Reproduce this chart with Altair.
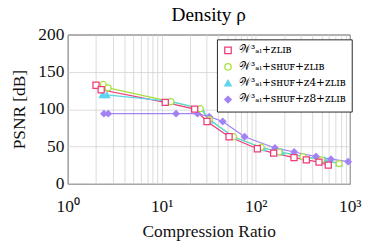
import altair as alt
import pandas as pd

series_names = ["𝒲³ₐₗ+ᴢʟɪʙ", "𝒲³ₐₗ+ꜱʜᴜꜰ+ᴢʟɪʙ", "𝒲³ₐₗ+ꜱʜᴜꜰ+ᴢ4+ᴢʟɪʙ", "𝒲³ₐₗ+ꜱʜᴜꜰ+ᴢ8+ᴢʟɪʙ"]

red_cr = [2.0, 2.27, 10.9, 22.4, 30.3, 52, 104, 155, 255, 345, 470, 590]
red_psnr = [132, 126, 109, 100, 83.5, 63, 47, 41, 35, 32, 29, 25]

green_cr = [2.39, 2.69, 12.5, 25.7, 32, 58, 114, 177, 317, 500, 770]
green_psnr = [133, 128.5, 110, 100.6, 86, 63, 49, 42.6, 36.5, 32, 27]

cyan_cr = [2.34, 2.6, 12.5, 26.2, 33, 57, 118, 187, 324, 541, 770]
cyan_psnr = [119, 119, 110.5, 100.6, 85, 63, 48, 42.6, 36.5, 32, 27.5]

purple_cr = [2.43, 2.7, 14.2, 24, 32, 44.5, 76, 160, 256, 437, 630, 960]
purple_psnr = [94, 94, 94, 94, 90, 83.5, 63, 48, 42.6, 36.5, 33, 29.7]

colors = ["#f03c78", "#a6e03c", "#5cd6ee", "#a282f6"]
fills = ["white", "white", "#5cd6ee", "#a282f6"]
shapes = ["square", "circle", "triangle-up", "diamond"]

rows = []
for order, (name, xs, ys) in enumerate(zip(series_names,
                                            [red_cr, green_cr, cyan_cr, purple_cr],
                                            [red_psnr, green_psnr, cyan_psnr, purple_psnr])):
    for i, (x, y) in enumerate(zip(xs, ys)):
        rows.append({"method": name, "cr": x, "psnr": y, "draw": 3 - order, "i": i})
df = pd.DataFrame(rows)

font = "Liberation Serif"
x_ticks = [m * 10 ** k for k in range(3) for m in range(1, 10)] + [1000]

x_enc = alt.X("cr:Q", scale=alt.Scale(type="log", domain=[1, 1000], nice=False),
              axis=alt.Axis(values=x_ticks, title="Compression Ratio", ticks=False,
                            labelExpr="datum.value == 1 ? '10⁰' : datum.value == 10 ? '10¹' : datum.value == 100 ? '10²' : datum.value == 1000 ? '10³' : ''",
                            labelFlush=False, labelPadding=15, titlePadding=8))
y_enc = alt.Y("psnr:Q", scale=alt.Scale(domain=[0, 200], nice=False),
              axis=alt.Axis(values=[0, 50, 100, 150, 200], title="PSNR [dB]", ticks=False,
                            labelPadding=4, titlePadding=10))

dom = series_names
legend = alt.Legend(title=None, orient="none", legendX=155, legendY=5,
                    fillColor="white", strokeColor="#222", padding=6,
                    labelFont="DejaVu Serif", labelFontSize=11, labelOffset=6,
                    symbolSize=45, symbolStrokeWidth=1.3, rowPadding=4,
                    labelLimit=200)

lines = alt.Chart(df).mark_line(strokeWidth=1.3).encode(
    x=x_enc, y=y_enc,
    stroke=alt.Stroke("method:N", scale=alt.Scale(domain=dom, range=colors), legend=legend),
    detail="method:N",
    order="i:Q",
)

pts = alt.Chart(df).mark_point(size=40, strokeWidth=1.3, opacity=1).encode(
    x=x_enc, y=y_enc,
    stroke=alt.Stroke("method:N", scale=alt.Scale(domain=dom, range=colors), legend=legend),
    fill=alt.Fill("method:N", scale=alt.Scale(domain=dom, range=fills), legend=legend),
    shape=alt.Shape("method:N", scale=alt.Scale(domain=dom, range=shapes), legend=legend),
    order="draw:Q",
)

chart = alt.layer(lines, pts).properties(
    width=293, height=155,
    title=alt.Title("Density ρ", font=font, fontSize=20, fontWeight="normal", offset=1),
    padding={"left": 3, "top": -7, "right": 10, "bottom": 0},
).configure_axis(
    labelFont=font, titleFont=font, labelFontSize=18, titleFontSize=18,
    titleFontWeight="normal", labelColor="#111", titleColor="#111",
    gridColor="#d0d0d0", gridWidth=0.8, domain=False,
).configure_view(stroke="#333", strokeWidth=1)

chart.save("out.html", embed_options={"renderer": "svg", "actions": False})
